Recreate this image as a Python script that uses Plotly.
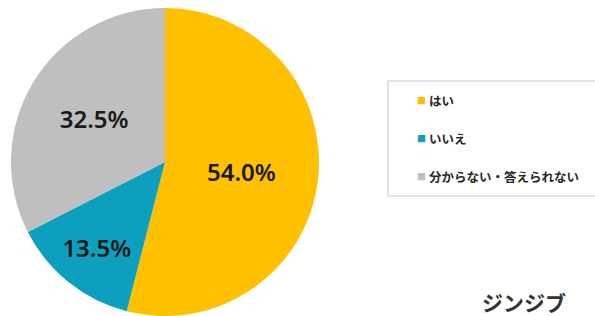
import plotly.graph_objects as go

labels = ["はい", "いいえ", "分からない・答えられない"]
values = [54.0, 13.5, 32.5]
colors = ["#FFC000", "#0CA0BE", "#BFBFBF"]
watermark = "ジンジブ"

W, H = 595, 316
cx, r = 165, 154

fig = go.Figure()
fig.add_trace(go.Pie(
    labels=labels,
    values=values,
    sort=False,
    direction="clockwise",
    rotation=0,
    marker=dict(colors=colors, line=dict(width=0)),
    texttemplate="%{value:.1f}%",
    textposition="inside",
    insidetextorientation="horizontal",
    textfont=dict(family="Noto Sans", size=24, color="#1a1a1a", weight=600),
    showlegend=False,
    hoverinfo="label+percent",
    domain=dict(x=[(cx - r) / W, (cx + r) / W], y=[0, (2 * r) / H]),
))

# custom legend (box + entries)
box_x0, box_x1, box_y0, box_y1 = 388, 600, 81, 196
fig.add_shape(type="rect", xref="paper", yref="paper",
              x0=box_x0 / W, x1=box_x1 / W, y0=1 - box_y1 / H, y1=1 - box_y0 / H,
              line=dict(color="#C8C8C8", width=1), fillcolor="rgba(0,0,0,0)")
item_y = [100, 138, 176]
for lab, col, yy in zip(labels, colors, item_y):
    fig.add_annotation(xref="paper", yref="paper", x=421 / W, y=1 - yy / H,
                       text="■", showarrow=False, xanchor="center", yanchor="middle",
                       font=dict(size=9, color=col, family="Noto Sans CJK JP"))
    fig.add_annotation(xref="paper", yref="paper", x=427 / W, y=1 - yy / H,
                       text=lab, showarrow=False, xanchor="left", yanchor="middle",
                       font=dict(size=12.5, color="#262626", family="Noto Sans CJK JP", weight="bold"))

fig.add_annotation(xref="paper", yref="paper", x=524 / W, y=1 - 302 / H,
                   text=watermark, showarrow=False, xanchor="center", yanchor="middle",
                   font=dict(size=21, color="#333333", family="Noto Sans CJK JP", weight="bold"))

fig.update_layout(width=W, height=H, margin=dict(l=0, r=0, t=0, b=0),
                  paper_bgcolor="white", plot_bgcolor="white")
fig.write_html("out.html", config={"displayModeBar": False},
               post_script="document.body.style.margin='0';document.body.style.overflow='hidden';")
